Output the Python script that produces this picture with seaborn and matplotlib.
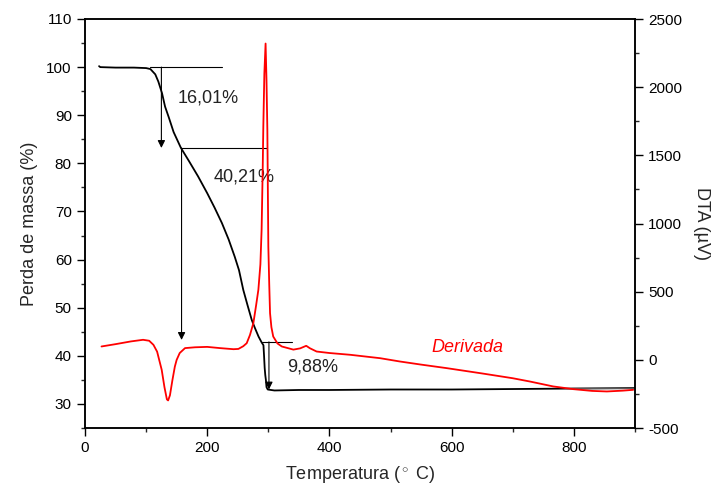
import numpy as np
import pandas as pd
import matplotlib
matplotlib.use("Agg")
import matplotlib.pyplot as plt
import seaborn as sns
from matplotlib.ticker import MultipleLocator

# ---- data ----
tg_temp = [23, 25, 50, 80, 100, 107, 115, 120, 126, 131, 137, 145, 157, 170, 185, 200, 212,
           224, 235, 245, 252, 259, 266, 273, 278, 284, 289, 292, 293, 294, 295, 296, 297,
           299, 310, 350, 400, 500, 600, 700, 800, 900]
tg_mass = [100.2, 100.0, 99.9, 99.9, 99.8, 99.6, 98.5, 97.0, 94.6, 91.8, 89.6, 86.5, 83.2,
           80.5, 77.3, 73.8, 70.8, 67.6, 64.2, 60.6, 57.8, 53.7, 50.5, 47.4, 45.8, 44.0,
           42.8, 42.2, 40.0, 37.5, 36.0, 35.0, 33.5, 33.0, 32.8, 32.9, 32.9, 33.0, 33.0,
           33.1, 33.2, 33.3]

dta_temp = [27, 50, 75, 95, 105, 112, 118, 125.5, 130, 134, 136, 139, 143, 147, 150, 155,
            163.7, 180, 200, 221, 243, 251, 259, 264.6, 270, 275.5, 280, 283.7, 287, 289,
            290.8, 291.8, 293.5, 295.5, 297, 298.4, 299.3, 300, 301.5, 302.8, 305, 308,
            315, 322, 341, 352, 362, 368, 379, 400, 434, 483, 515, 550, 592, 650, 700,
            728, 766, 799, 830, 854, 880, 897]
dta_uv = [98, 115, 135, 147, 140, 110, 60, -73, -200, -290, -298, -260, -150, -50, 0, 50,
          86, 92, 95, 86, 78, 80, 100, 122, 183, 269, 400, 514, 700, 954,
          1400, 1712, 2100, 2320, 2050, 1687, 1200, 831, 550, 342, 240, 171,
          120, 98, 75, 84, 103, 85, 61, 50, 37, 12, -12, -35, -61, -100, -135,
          -159, -195, -215, -228, -232, -226, -220]

base_temp = [795, 900]
base_mass = [33.4, 33.4]

step_labels = ["16,01%", "40,21%", "9,88%"]
step_label_x = [202, 261, 373]
step_label_y = [93.6, 77.2, 37.7]
# horizontal reference lines: (y, x_start, x_end)
step_hline_y = [100.0, 83.2, 42.9]
step_hline_x0 = [107, 157, 289]
step_hline_x1 = [224, 297, 338]
# arrows: x, y_from, y_to
step_arrow_x = [125, 158, 301]
step_arrow_y0 = [100.0, 83.2, 42.9]
step_arrow_y1 = [83.2, 43.3, 33.0]

x_ticks = [0, 200, 400, 600, 800]
left_ticks = [30, 40, 50, 60, 70, 80, 90, 100, 110]
right_ticks = [-500, 0, 500, 1000, 1500, 2000, 2500]

tg = pd.DataFrame({"T": tg_temp, "mass": tg_mass})
dta = pd.DataFrame({"T": dta_temp, "uv": dta_uv})
base = pd.DataFrame({"T": base_temp, "mass": base_mass})

# ---- style ----
sns.set_style("ticks")
plt.rcParams["font.family"] = ["Liberation Sans", "DejaVu Sans"]
plt.rcParams["mathtext.fontset"] = "custom"
plt.rcParams["mathtext.rm"] = "Liberation Sans"
plt.rcParams["axes.unicode_minus"] = False
plt.rcParams["axes.linewidth"] = 1.1

fig = plt.figure(figsize=(7.15, 4.9), dpi=100)
ax = fig.add_axes([85 / 715, 1 - 428 / 490, (635 - 85) / 715, (428 - 19) / 490])
ax2 = ax.twinx()

sns.lineplot(data=tg, x="T", y="mass", ax=ax, color="black", lw=1.3,
             estimator=None, sort=False, legend=False)
sns.lineplot(data=base, x="T", y="mass", ax=ax, color="0.35", lw=0.9,
             estimator=None, sort=False, legend=False)
sns.lineplot(data=dta, x="T", y="uv", ax=ax2, color="#ff0000", lw=1.3,
             estimator=None, sort=False, legend=False)

# step annotations
for y, x0, x1 in zip(step_hline_y, step_hline_x0, step_hline_x1):
    ax.plot([x0, x1], [y, y], color="black", lw=0.8)
for x, y0, y1 in zip(step_arrow_x, step_arrow_y0, step_arrow_y1):
    ax.annotate("", xy=(x, y1), xytext=(x, y0),
                arrowprops=dict(arrowstyle="-|>", color="black", lw=0.8,
                                mutation_scale=11, shrinkA=0, shrinkB=0))
for s, x, y in zip(step_labels, step_label_x, step_label_y):
    ax.text(x, y, s, ha="center", va="center", fontsize=13, color="#222222")

ax.text(625, 41.8, "Derivada", ha="center", va="center", fontsize=13,
        color="#ff0000", style="italic")

# axes
ax.set_xlim(0, 900)
ax.set_ylim(25, 110)
ax2.set_ylim(-500, 2500)
ax.set_xticks(x_ticks)
ax.set_yticks(left_ticks)
ax2.set_yticks(right_ticks)
ax.xaxis.set_minor_locator(MultipleLocator(100))
ax.yaxis.set_minor_locator(MultipleLocator(5))
ax2.yaxis.set_minor_locator(MultipleLocator(250))

for a in (ax, ax2):
    a.tick_params(which="major", direction="out", length=6, width=1.0,
                  labelsize=11, colors="black")
    a.tick_params(which="minor", direction="out", length=3, width=1.0)
    for sp in a.spines.values():
        sp.set_visible(True)
        sp.set_color("black")
        sp.set_linewidth(1.1)
ax.tick_params(top=False, which="both")

ax.set_xlabel("Temperatura ($^\\circ$ C)", fontsize=13, labelpad=6)
ax.set_ylabel("Perda de massa (%)", fontsize=13, labelpad=6)
ax2.set_ylabel("DTA (µV)", fontsize=13, rotation=270, labelpad=20)

fig.savefig("out.png", dpi=100)
